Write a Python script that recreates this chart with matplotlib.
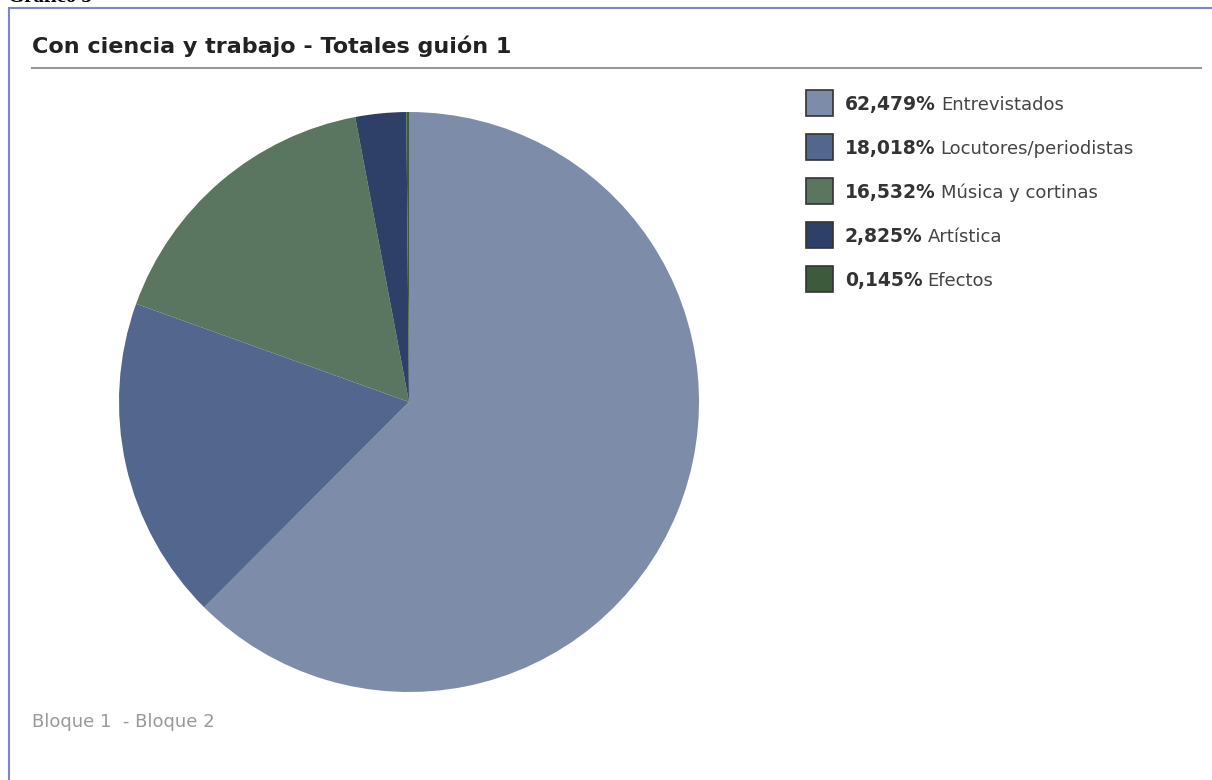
import matplotlib.pyplot as plt
from matplotlib.patches import Rectangle
from matplotlib.lines import Line2D

# datos del gráfico
categorias = ['Entrevistados', 'Locutores/periodistas', 'Música y cortinas', 'Artística', 'Efectos']
porcentajes = [62.479, 18.018, 16.532, 2.825, 0.145]
colores = ['#7d8ca8', '#52668e', '#5a7560', '#2e4068', '#3e5a3c']
etiquetas_pct = ['62,479%', '18,018%', '16,532%', '2,825%', '0,145%']

W, H = 1212, 780
fig = plt.figure(figsize=(W / 100, H / 100), dpi=100)
fig.patch.set_facecolor('white')

def fx(px):
    return px / W

def fy(py):
    return 1 - py / H

# marco
fig.add_artist(Line2D([fx(9), fx(9)], [fy(8), 0], color='#7b85c8', lw=1.5))
fig.add_artist(Line2D([fx(9), 1], [fy(8), fy(8)], color='#7b85c8', lw=1.5))
fig.text(fx(8), fy(7), 'Gráfico 5', family='Liberation Serif', weight='bold',
         fontsize=15, va='bottom', ha='left')

# titulo
fig.text(fx(32), fy(53), 'Con ciencia y trabajo - Totales guión 1', fontsize=16,
         weight='bold', color='#222222', va='baseline', ha='left')
fig.add_artist(Line2D([fx(32), fx(1201)], [fy(68), fy(68)], color='#999999', lw=1.5))

# torta
cx, cy, r = 409, 402, 290
ax = fig.add_axes([fx(cx - r), fy(cy + r), 2 * r / W, 2 * r / H])
ax.pie(porcentajes, colors=colores, startangle=90, counterclock=False,
       wedgeprops={'linewidth': 0})
ax.set_xlim(-1, 1)
ax.set_ylim(-1, 1)
ax.set_aspect('auto')
ax.axis('off')

# leyenda
for i, (cat, pct, col) in enumerate(zip(categorias, etiquetas_pct, colores)):
    top = 90 + i * 44
    fig.add_artist(Rectangle((fx(806), fy(top + 26)), 27 / W, 26 / H,
                             facecolor=col, edgecolor='#333333', lw=1.2))
    t = fig.text(fx(845), fy(top + 20), pct, fontsize=13.5, weight='bold',
                 color='#333333', va='baseline', ha='left')
    fig.canvas.draw()
    bb = t.get_window_extent()
    fig.text(bb.x1 / W + fx(5), fy(top + 20), cat, fontsize=13,
             color='#444444', va='baseline', ha='left')

# pie de pagina
fig.text(fx(32), fy(727), 'Bloque 1  - Bloque 2', fontsize=13, color='#999999',
         va='baseline', ha='left')

fig.savefig('out.png', dpi=100)
